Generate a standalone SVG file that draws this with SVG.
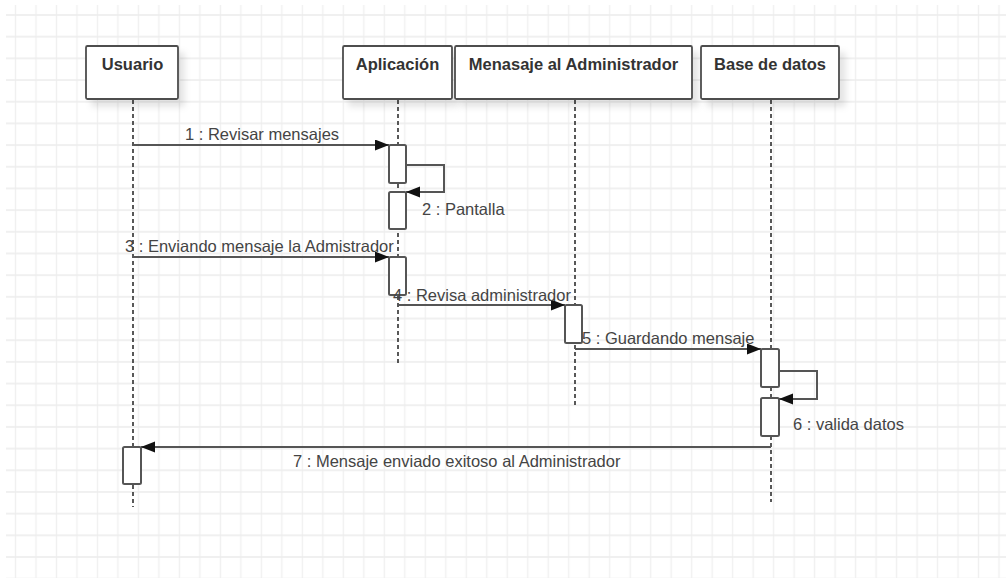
<svg xmlns="http://www.w3.org/2000/svg" width="1006" height="578" viewBox="0 0 1006 578">
  <defs>
    <pattern id="grid" patternUnits="userSpaceOnUse" x="5.25" y="4.16" width="20.49" height="21.68">
      <path d="M10.245 0 V21.68" stroke="#f0f0f0" stroke-width="1.4" fill="none"/>
      <path d="M0 10.84 H20.49" stroke="#ededed" stroke-width="1.6" fill="none"/>
    </pattern>
    <filter id="shadow" x="-20%" y="-20%" width="150%" height="160%">
      <feDropShadow dx="6" dy="7" stdDeviation="3" flood-color="#000" flood-opacity="0.1"/>
    </filter>
    <marker id="arrow" markerUnits="userSpaceOnUse" markerWidth="15" markerHeight="12" refX="14" refY="5.5" orient="auto">
      <path d="M0 0 L14 5.5 L0 11 Z" fill="#111"/>
    </marker>
    <style>
      .head { fill: #fff; stroke: #4d4d4d; stroke-width: 1.8; filter: url(#shadow); }
      .headtxt { font-family: "Liberation Sans", Arial, sans-serif; font-weight: bold; font-size: 16.5px; fill: #333; text-anchor: middle; }
      .life { stroke: #222; stroke-width: 1.5; stroke-dasharray: 4 3; fill: none; }
      .act { fill: #fff; stroke: #555; stroke-width: 2; }
      .msg { stroke: #555; stroke-width: 2; fill: none; marker-end: url(#arrow); }
      .lbl { font-family: "Liberation Sans", Arial, sans-serif; font-size: 16.5px; fill: #444; }
    </style>
  </defs>

  <!-- canvas and grid -->
  <rect x="0" y="0" width="1006" height="578" fill="#fff"/>
  <rect x="6" y="5" width="1000" height="573" fill="url(#grid)"/>

  <!-- lifelines -->
  <g id="lifelines">
    <line class="life" x1="133" y1="100" x2="133" y2="507"/>
    <line class="life" x1="398" y1="100" x2="398" y2="363"/>
    <line class="life" x1="575" y1="100" x2="575" y2="406"/>
    <line class="life" x1="771" y1="100" x2="771" y2="502"/>
  </g>

  <!-- participants -->
  <g id="usuario">
    <rect class="head" x="86" y="46" width="92" height="53" rx="1.5"/>
    <text class="headtxt" x="132.5" y="70">Usuario</text>
  </g>
  <g id="aplicacion">
    <rect class="head" x="343" y="46" width="109" height="53" rx="1.5"/>
    <text class="headtxt" x="397.5" y="70">Aplicación</text>
  </g>
  <g id="mensaje-admin">
    <rect class="head" x="455" y="46" width="237" height="53" rx="1.5"/>
    <text class="headtxt" x="573.5" y="70">Menasaje al Administrador</text>
  </g>
  <g id="base-datos">
    <rect class="head" x="701" y="46" width="138" height="53" rx="1.5"/>
    <text class="headtxt" x="770" y="70">Base de datos</text>
  </g>

  <!-- activation bars -->
  <g id="activations">
    <rect class="act" x="389" y="145" width="17" height="38" rx="1.5"/>
    <rect class="act" x="389" y="192" width="17" height="37" rx="1.5"/>
    <rect class="act" x="389" y="257" width="17" height="38" rx="1.5"/>
    <rect class="act" x="565" y="305" width="17" height="38" rx="1.5"/>
    <rect class="act" x="761" y="349" width="18" height="38" rx="1.5"/>
    <rect class="act" x="761" y="398" width="18" height="38" rx="1.5"/>
    <rect class="act" x="123" y="447" width="18" height="37" rx="1.5"/>
  </g>

  <!-- messages -->
  <g id="connectors">
    <line class="msg" x1="133" y1="145" x2="389" y2="145"/>
    <path class="msg" d="M406 165 H444 V192 H406"/>
    <line class="msg" x1="133" y1="257" x2="389" y2="257"/>
    <line class="msg" x1="398" y1="305" x2="565" y2="305"/>
    <line class="msg" x1="575" y1="349" x2="761" y2="349"/>
    <path class="msg" d="M779 371 H817 V399 H779"/>
    <line class="msg" x1="771" y1="447" x2="141" y2="447"/>
  </g>

  <!-- message labels -->
  <g id="labels">
    <text class="lbl" x="185" y="140">1 : Revisar mensajes</text>
    <text class="lbl" x="422" y="215">2 : Pantalla</text>
    <text class="lbl" x="125" y="252">3 : Enviando mensaje la Admistrador</text>
    <text class="lbl" x="393" y="301">4 : Revisa administrador</text>
    <text class="lbl" x="582" y="344">5 : Guardando mensaje</text>
    <text class="lbl" x="793" y="430">6 : valida datos</text>
    <text class="lbl" x="293" y="467">7 : Mensaje enviado exitoso al Administrador</text>
  </g>
</svg>
